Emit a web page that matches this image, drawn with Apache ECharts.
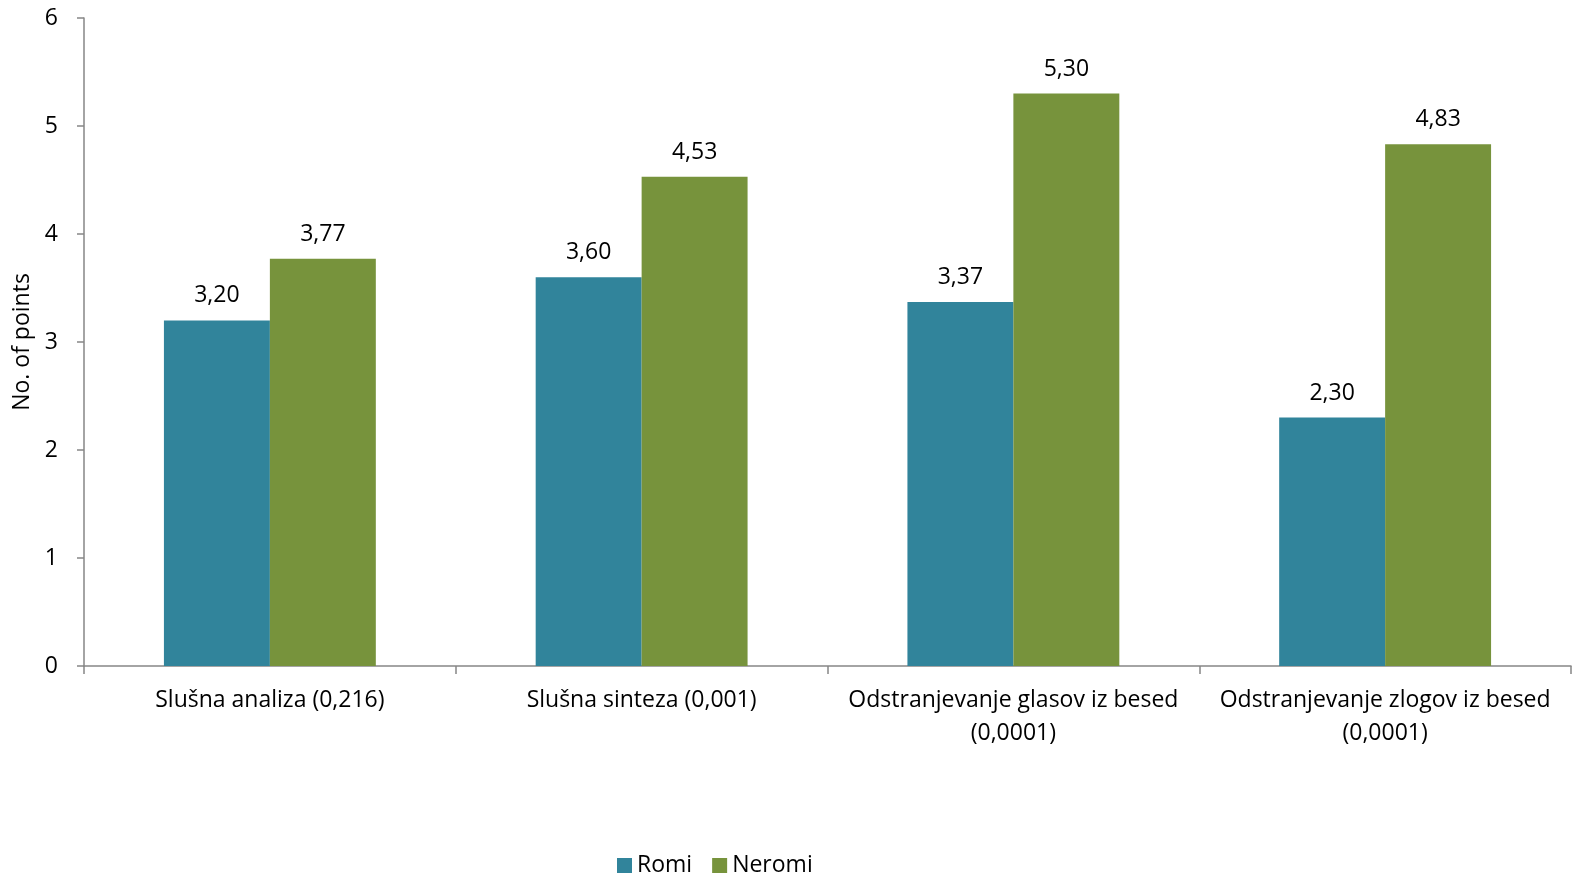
<!DOCTYPE html>
<html>
<head>
<meta charset="utf-8">
<script src="https://cdn.jsdelivr.net/npm/echarts@6/dist/echarts.min.js"></script>
<style>
  html, body { margin: 0; padding: 0; background: #fff; }
  #chart { width: 1577px; height: 878px; }
</style>
</head>
<body>
<div id="chart"></div>
<script>
// Task categories (with p-values) and mean scores per group
const categories = [
  'Slušna analiza (0,216)',
  'Slušna sinteza (0,001)',
  'Odstranjevanje glasov iz besed (0,0001)',
  'Odstranjevanje zlogov iz besed (0,0001)'
];
const romi = [3.20, 3.60, 3.37, 2.30];
const neromi = [3.77, 4.53, 5.30, 4.83];
const seriesNames = ['Romi', 'Neromi'];
const yTicks = [0, 1, 2, 3, 4, 5, 6];

const FONT = '"Open Sans", "Noto Sans", sans-serif';
const FS = 23;
const fmt = p => p.value.toFixed(2).replace('.', ',');
// Long task names go on two lines, with the p-value below
const wrapLabel = s => s.length > 26 ? s.replace(' (', '\n(') : s;

const chart = echarts.init(document.getElementById('chart'));
chart.setOption({
  animation: false,
  textStyle: { fontFamily: FONT },
  legend: {
    data: seriesNames,
    top: 849,
    left: 612,
    itemWidth: 15,
    itemHeight: 15,
    itemGap: 20,
    icon: 'rect',
    textStyle: { fontSize: FS, color: '#000', fontFamily: FONT }
  },
  grid: { left: 84, right: 6, top: 18, bottom: 212, containLabel: false, outerBoundsMode: 'none' },
  xAxis: {
    type: 'category',
    data: categories,
    axisLine: { lineStyle: { color: '#868686', width: 1.5 } },
    axisTick: { show: true, length: 8, lineStyle: { color: '#868686', width: 1.5 } },
    axisLabel: {
      fontSize: FS,
      color: '#000',
      fontFamily: FONT,
      margin: 18,
      lineHeight: 33,
      interval: 0,
      formatter: wrapLabel
    }
  },
  yAxis: {
    type: 'value',
    min: yTicks[0],
    max: yTicks[yTicks.length - 1],
    interval: 1,
    name: 'No. of points',
    nameLocation: 'middle',
    nameGap: 50,
    nameTextStyle: { fontSize: FS, color: '#000', fontFamily: FONT },
    splitLine: { show: false },
    axisLine: { show: true, lineStyle: { color: '#868686', width: 1.5 } },
    axisTick: { show: true, length: 7, lineStyle: { color: '#868686', width: 1.5 } },
    axisLabel: { fontSize: FS, color: '#000', fontFamily: FONT, margin: 26 }
  },
  series: [
    {
      name: seriesNames[0],
      type: 'bar',
      data: romi,
      barGap: '0%',
      barCategoryGap: '43%',
      itemStyle: { color: '#31849B' },
      label: { show: true, position: 'top', distance: 13, fontSize: FS, color: '#000', fontFamily: FONT, formatter: fmt }
    },
    {
      name: seriesNames[1],
      type: 'bar',
      data: neromi,
      barGap: '0%',
      barCategoryGap: '43%',
      itemStyle: { color: '#77933C' },
      label: { show: true, position: 'top', distance: 13, fontSize: FS, color: '#000', fontFamily: FONT, formatter: fmt }
    }
  ]
});
</script>
</body>
</html>
